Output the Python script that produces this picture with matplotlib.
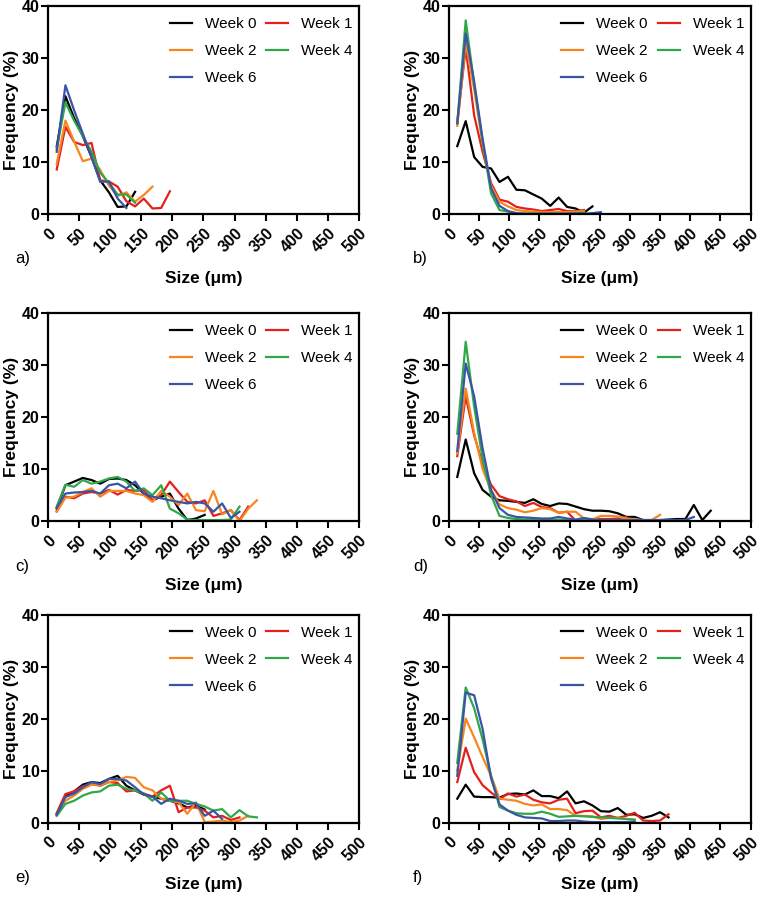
import numpy as np
import matplotlib
matplotlib.use('Agg')
import matplotlib.pyplot as plt

plt.rcParams['font.family'] = ['Liberation Sans', 'DejaVu Sans']

# bin centres (um)
sizes = [14, 28, 42, 56, 70, 84, 98, 112, 126, 140, 154, 168, 182, 196, 210,
         224, 238, 252, 266, 280, 294, 308, 322, 336, 350, 364, 378, 392, 406,
         420, 434]

weeks = ['Week 0', 'Week 1', 'Week 2', 'Week 4', 'Week 6']
colors = ['#000000', '#e3211c', '#f7861f', '#2fa84a', '#3b55a6']

# panel a
a_w0 = [13, 22.7, 18.5, 15, 11, 6.5, 4.2, 1.4, 1.5, 4.3]
a_w1 = [8.6, 16.8, 13.9, 13.3, 13.7, 6.5, 6.3, 5.3, 2.5, 1.5, 3, 1.1, 1.2, 4.4]
a_w2 = [9.7, 18, 14, 10.2, 10.7, 8.5, 5.5, 3.5, 4.2, 2.4, 3.7, 5.3]
a_w4 = [12.5, 21.5, 18, 15, 12, 8, 6, 3.8, 3.8, 2.2]
a_w6 = [12, 24.8, 20, 15.5, 11, 6.2, 6.3, 3, 1.2]

# panel b
b_w0 = [13.1, 17.9, 11, 9.1, 8.8, 6.2, 7.2, 4.7, 4.6, 3.8, 3, 1.6, 3.2, 1.4,
        1.1, 0.3, 1.5]
b_w1 = [17.5, 32, 19, 12, 6, 2.8, 2.4, 1.4, 1.1, 0.9, 0.6, 0.8, 1, 0.6, 0.6, 0.8]
b_w2 = [17, 33, 24, 13.5, 5.5, 2.4, 1.5, 0.8, 0.6, 0.5, 0.4, 0.4, 0.4, 0.4,
        0.5, 0.6]
b_w4 = [17.5, 37.3, 25, 14, 4, 0.8, 0.5, 0.2, 0.1, 0.1, 0.1, 0.1, 0.1, 0.1,
        0.2, 0.3]
b_w6 = [17.5, 34.8, 25.5, 14.5, 5, 1.6, 0.6, 0.2, 0.1, 0.1, 0.1, 0.1, 0.1,
        0.1, 0.1, 0.1, 0.2, 0.4]

# panel c
c_w0 = [2.4, 6.9, 7.6, 8.3, 7.9, 7.2, 8.1, 8.2, 7.9, 6.9, 5.3, 4, 4.7, 5.3,
        2.4, 0.2, 0.5, 1.2]
c_w1 = [1.9, 4.7, 4.4, 5.3, 5.6, 5.3, 6, 5.1, 6, 5.8, 6, 4, 5, 7.6, 5.6, 3.7,
        3.4, 4, 1, 1.5, 2.1, 0.2, 2.8]
c_w2 = [1.8, 4.5, 4.7, 5.6, 6.3, 4.7, 5.8, 5.8, 5.8, 5.3, 5, 3.7, 5.8, 4.7,
        3.1, 5.3, 2.1, 1.9, 5.8, 1.3, 2.1, 0, 2.4, 4]
c_w4 = [2.8, 7, 6.6, 7.9, 7.2, 7.6, 8.2, 8.5, 7.6, 5.8, 6.3, 5, 6.9, 2.4, 1.5,
        0.3, 0.2, 0.2, 0.2, 0.2, 0.3, 2.8]
c_w6 = [2.6, 5.3, 5.5, 5.6, 5.8, 5.3, 6.9, 7.2, 6.3, 7.6, 5.3, 4.7, 4.4, 4,
        3.7, 3.4, 3.7, 3.4, 1.8, 3.4, 0.6, 1.8]

# panel d
d_w0 = [8.5, 15.7, 9.2, 6, 4.7, 4, 3.9, 3.7, 3.5, 4.2, 3.3, 2.9, 3.4, 3.3,
        2.8, 2.3, 2, 2, 1.9, 1.5, 0.8, 0.8, 0.2, 0.2, 0.2, 0.3, 0.4, 0.4, 3.1,
        0.2, 2]
d_w1 = [12.5, 24, 16.5, 11, 7, 4.8, 4.2, 3.8, 2.9, 3.5, 2.7, 2.5, 1.6, 1.8,
        0.1, 0.4, 0.4, 0.4, 0.4, 0.5, 0.8]
d_w2 = [13, 25.5, 17, 10, 6, 3.2, 2.5, 2.2, 1.7, 2, 2.5, 2.3, 1.6, 1.8, 1.8,
        0.5, 0.3, 1, 1, 0.9, 0.5, 0.4, 0.2, 0.2, 1.2]
d_w4 = [16.8, 34.5, 22, 12, 5, 1, 0.6, 0.4, 0.3, 0.3, 0.2, 0.2, 0.3, 0.2,
        0.2, 0.2, 0.2]
d_w6 = [13.5, 30.3, 24, 14, 6, 2.5, 1.2, 0.8, 0.7, 0.6, 0.5, 0.5, 0.8, 0.5,
        0.3, 0.6, 0.3, 0.2, 0.2, 0.2, 0.2, 0.2, 0.2, 0.2, 0.2, 0.2, 0.2, 0.2,
        0.8]

# panel e
e_w0 = [1.7, 5.2, 6, 7.3, 7.8, 7.6, 8.4, 9, 7.1, 6.2, 5.4, 5, 4.6, 4.2, 3.7,
        2.9, 3.3, 2.5]
e_w1 = [1.8, 5.5, 6, 7, 7.4, 7.1, 7.8, 7.6, 6, 6.2, 5.6, 5, 6.2, 7.1, 2, 2.9,
        2.9, 2.3, 1, 1.3, 0.5, 1]
e_w2 = [1.5, 4.2, 5.2, 6.5, 7.3, 7.2, 7.8, 8.1, 8.8, 8.6, 6.8, 6.2, 4.6, 4.2,
        3.9, 1.7, 3.9, 0.1, 0.2, 0.4, 0.1, 0.4, 1.3]
e_w4 = [1.3, 3.6, 4.2, 5.2, 5.8, 6, 7.1, 7.3, 6.5, 6.2, 5.6, 4.2, 5.8, 4.2,
        4.2, 4.2, 3.6, 3.1, 2.3, 2.6, 1, 2.4, 1.2, 1]
e_w6 = [1.5, 4.9, 5.6, 6.8, 7.8, 7.4, 8.4, 8.4, 8.1, 6.8, 5.4, 5, 3.6, 4.6,
        4.2, 3.6, 3.7, 1.3, 2.3, 0.7]

# panel f
f_w0 = [4.6, 7.3, 5, 4.9, 4.9, 4.8, 5.5, 5.6, 5.4, 6.2, 5.1, 5.1, 4.7, 6, 3.7,
        4.1, 3.3, 2.2, 2.1, 2.8, 1.5, 1.6, 0.9, 1.3, 2, 1]
f_w1 = [7.8, 14.4, 9.7, 7.2, 5.8, 4.5, 5.6, 5, 5.4, 4.4, 3.9, 3.7, 4.4, 4.6,
        1.8, 2.2, 2.3, 1, 1.3, 0.9, 1.3, 1.9, 0.4, 0.3, 0.4, 1.6]
f_w2 = [10, 20, 16.4, 12.6, 9, 4.6, 4.4, 4.2, 3.6, 3.3, 3.5, 2.6, 2.6, 2.4,
        1.3, 1.3, 1.2, 0.7, 0.9, 0.9, 0.7, 0.6]
f_w4 = [11.5, 26, 22, 16, 9, 3, 2.3, 1.8, 1.7, 1.7, 2.1, 1.7, 1.1, 1.2, 1.3,
        1.2, 1.1, 1, 0.9, 0.8, 0.7, 0.5]
f_w6 = [9, 25, 24.5, 18, 8.5, 3.5, 2.3, 1.5, 1, 0.9, 0.8, 0.3, 0.3, 0.4, 0.4,
        0.2, 0.1, 0.1, 0.1, 0.1, 0.1, 0.1]

panels = [
    ('a)', [a_w0, a_w1, a_w2, a_w4, a_w6]),
    ('b)', [b_w0, b_w1, b_w2, b_w4, b_w6]),
    ('c)', [c_w0, c_w1, c_w2, c_w4, c_w6]),
    ('d)', [d_w0, d_w1, d_w2, d_w4, d_w6]),
    ('e)', [e_w0, e_w1, e_w2, e_w4, e_w6]),
    ('f)', [f_w0, f_w1, f_w2, f_w4, f_w6]),
]

fig = plt.figure(figsize=(7.62, 9.0), dpi=100)

lefts = [0.063, 0.589]
widths = [0.408, 0.396]
bottoms = [0.762, 0.421, 0.086]
H = 0.231
label_x = [0.02, 0.542]
label_y = [0.713, 0.371, 0.025]

for i, (lab, series) in enumerate(panels):
    row, col = i // 2, i % 2
    ax = fig.add_axes([lefts[col], bottoms[row], widths[col], H])
    lines = []
    for s, c, w in zip(series, colors, weeks):
        ln, = ax.plot(sizes[:len(s)], s, color=c, lw=1.6, label=w)
        lines.append(ln)
    ax.set_xlim(0, 500)
    ax.set_ylim(0, 40)
    ax.set_xticks(np.arange(0, 501, 50))
    ax.set_yticks([0, 10, 20, 30, 40])
    for sp in ax.spines.values():
        sp.set_linewidth(1.6)
    ax.tick_params(direction='out', length=5, width=1.5, labelsize=11.5)
    ax.tick_params(axis='y', pad=1.2)
    for t in ax.get_xticklabels():
        t.set_rotation(45)
        t.set_ha('right')
        t.set_rotation_mode('anchor')
        t.set_fontweight('bold')
    for t in ax.get_yticklabels():
        t.set_fontweight('bold')
    ax.set_xlabel('Size (\u03bcm)', fontsize=12.5, fontweight='bold',
                  labelpad=9 if row == 2 else 11)
    ax.set_ylabel('Frequency (%)', fontsize=12.5, fontweight='bold', labelpad=2)
    # legend order: Week 0, Week 1 / Week 2, Week 4 / Week 6
    order = [0, 2, 4, 1, 3]
    ax.legend([lines[k] for k in order], [weeks[k] for k in order], ncol=2,
              loc='upper right', bbox_to_anchor=(1.0, 0.976), frameon=False,
              fontsize=11, handlelength=1.45, handletextpad=0.85,
              columnspacing=0.65, labelspacing=0.85, borderaxespad=0)
    fig.text(label_x[col], label_y[row], lab, fontsize=12,
             ha='left', va='center')

fig.savefig('out.png', dpi=100)
